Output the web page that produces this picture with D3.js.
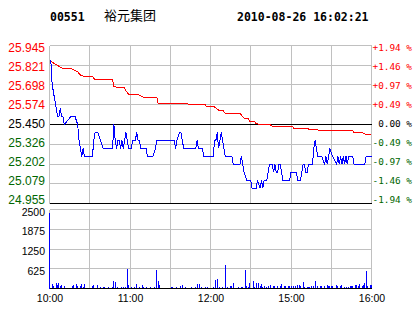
<!DOCTYPE html>
<html>
<head>
<meta charset="utf-8">
<script src="https://cdn.jsdelivr.net/npm/d3@7/dist/d3.min.js"></script>
<style>
body { margin: 0; background: #fff; }
svg { display: block; }
.head { font-family: 'DejaVu Sans Mono', monospace; font-size: 11.5px; font-weight: bold; }
.name { font-family: 'Noto Sans CJK SC', sans-serif; font-size: 13px; }
.price-label { font-family: 'Liberation Sans', Arial, sans-serif; font-size: 12px; }
.pct-label { font-family: 'DejaVu Sans Mono', monospace; font-size: 9.4px; }
.small-label { font-family: 'Liberation Sans', Arial, sans-serif; font-size: 10.5px; }
</style>
</head>
<body>
<svg width="414" height="314"></svg>
<script>
const stockCode = '00551';
const stockName = '裕元集团';
const stamp = '2010-08-26 16:02:21';
const preClose = 25.45;

// axis values
const priceTicks = [24.955, 25.079, 25.202, 25.326, 25.450, 25.574, 25.698, 25.821, 25.945];
const pctLabels = ['-1.94 %', '-1.46 %', '-0.97 %', '-0.49 %', '0.00 %', '+0.49 %', '+0.97 %', '+1.46 %', '+1.94 %'];
const volTicks = [625, 1250, 1875, 2500];
const gridMinutes = [0, 30, 60, 90, 120, 150, 180, 210, 240];
const timeMinutes = [0, 60, 120, 180, 240];
const timeLabels = ['10:00', '11:00', '12:00', '15:00', '16:00'];

// price line (minutes from open, price)
const priceMin = [0, 1, 2, 3, 4, 5, 6, 7, 8, 9, 10, 11, 16, 19, 21, 22, 23, 24, 25, 26, 32, 33, 34, 36, 38, 40, 47, 48, 49, 50,
  51, 52, 53, 54, 55, 56, 57, 58, 59, 61, 62, 64, 65, 66, 67, 68, 72, 73, 77, 79, 80, 93, 94, 95, 97, 98, 99, 100, 109, 110,
  111, 114, 115, 122, 123, 124, 125, 126, 127, 128, 129, 130, 131, 136, 137, 142, 143, 144, 145, 147, 150, 151, 154, 155, 157, 158, 159, 160, 162, 163,
  164, 166, 167, 168, 169, 170, 171, 172, 173, 174, 179, 180, 183, 184, 185, 187, 188, 189, 190, 191, 192, 193, 196, 197, 198, 199, 200, 203, 205, 206,
  207, 208, 209, 211, 214, 215, 216, 217, 218, 219, 220, 221, 222, 223, 226, 227, 235, 236, 240];
const price = [25.85, 25.85, 25.70, 25.65, 25.60, 25.55, 25.50, 25.50, 25.55, 25.50, 25.50, 25.45, 25.50, 25.50, 25.45, 25.35, 25.30, 25.25, 25.30, 25.25, 25.25, 25.35, 25.40, 25.40, 25.35, 25.30, 25.30, 25.45, 25.35, 25.30,
  25.35, 25.35, 25.30, 25.35, 25.30, 25.35, 25.40, 25.35, 25.30, 25.30, 25.35, 25.35, 25.40, 25.35, 25.35, 25.30, 25.30, 25.25, 25.25, 25.30, 25.35, 25.35, 25.30, 25.35, 25.40, 25.40, 25.35, 25.30, 25.30, 25.35,
  25.30, 25.30, 25.25, 25.25, 25.35, 25.35, 25.40, 25.30, 25.35, 25.40, 25.35, 25.30, 25.25, 25.25, 25.20, 25.20, 25.25, 25.20, 25.15, 25.10, 25.10, 25.05, 25.05, 25.10, 25.05, 25.10, 25.05, 25.10, 25.10, 25.15,
  25.20, 25.20, 25.15, 25.20, 25.15, 25.15, 25.20, 25.20, 25.15, 25.10, 25.10, 25.15, 25.15, 25.15, 25.10, 25.10, 25.15, 25.20, 25.20, 25.15, 25.15, 25.20, 25.20, 25.30, 25.35, 25.30, 25.25, 25.25, 25.20, 25.25,
  25.20, 25.25, 25.30, 25.25, 25.20, 25.25, 25.20, 25.25, 25.20, 25.25, 25.20, 25.25, 25.20, 25.25, 25.25, 25.20, 25.20, 25.25, 25.25];

// average price line
const avgMin = [0, 4, 6, 10, 16, 19, 21, 23, 26, 32, 34, 47, 48, 51, 56, 57, 59, 65, 68, 70, 80, 81, 102, 105, 116, 117, 123, 126, 129, 131,
  142, 143, 145, 148, 149, 153, 154, 158, 164, 166, 181, 182, 199, 200, 226, 227, 233, 235, 240];
const avgPrice = [25.85, 25.83, 25.82, 25.80, 25.80, 25.79, 25.78, 25.76, 25.75, 25.75, 25.73, 25.73, 25.69, 25.68, 25.68, 25.66, 25.64, 25.64, 25.63, 25.62, 25.62, 25.58, 25.58, 25.575, 25.575, 25.56, 25.56, 25.54, 25.54, 25.52,
  25.52, 25.51, 25.49, 25.49, 25.47, 25.47, 25.455, 25.45, 25.45, 25.44, 25.44, 25.425, 25.42, 25.415, 25.41, 25.40, 25.40, 25.39, 25.387];

// volume bars
const volMin = [0, 2, 3, 5, 6, 7, 8, 9, 11, 17, 18, 20, 21, 23, 24, 25, 26, 32, 33, 36, 38, 40, 41, 44, 47, 48, 49, 51, 54, 55,
  57, 58, 59, 61, 63, 65, 67, 69, 70, 72, 75, 78, 80, 81, 82, 91, 92, 95, 98, 99, 101, 106, 109, 110, 112, 113, 116, 118, 122, 124,
  125, 127, 129, 131, 133, 135, 136, 137, 141, 143, 144, 146, 147, 148, 149, 152, 153, 154, 156, 157, 158, 159, 160, 162, 163, 165, 167, 168, 170, 172,
  173, 175, 176, 178, 179, 180, 182, 183, 185, 186, 187, 189, 190, 192, 193, 194, 195, 197, 198, 200, 202, 203, 205, 207, 208, 209, 210, 211, 214, 215,
  217, 218, 220, 221, 223, 224, 225, 226, 228, 229, 230, 231, 233, 234, 235, 236, 237, 239, 240];
const volume = [2380, 150, 80, 185, 115, 185, 80, 105, 80, 80, 105, 135, 80, 80, 155, 60, 135, 80, 125, 105, 60, 60, 60, 60, 60, 250, 220, 60, 60, 60,
  60, 625, 125, 60, 60, 155, 60, 125, 60, 60, 60, 60, 595, 250, 105, 60, 60, 60, 80, 125, 60, 60, 60, 155, 155, 60, 60, 60, 60, 260,
  290, 60, 60, 730, 60, 80, 80, 185, 60, 60, 60, 595, 80, 60, 185, 240, 60, 165, 185, 80, 155, 60, 80, 60, 80, 115, 80, 80, 80, 80,
  155, 80, 80, 80, 80, 80, 80, 80, 125, 105, 80, 210, 60, 60, 60, 60, 80, 80, 250, 80, 80, 80, 80, 125, 80, 80, 80, 80, 105, 80,
  80, 125, 60, 60, 60, 80, 80, 80, 125, 105, 80, 155, 80, 125, 185, 550, 80, 125, 125];

const red = '#ff0000';
const green = '#006600';
const gridColor = '#c0c0c0';

const svg = d3.select('svg');
const margin = { left: 49, top: 45 };
const innerWidth = 322;
const priceHeight = 158;
const volTop = 209;
const volHeight = 79;

const xScale = d3.scaleLinear().domain([0, 240]).range([0, innerWidth]);
const yScale = d3.scaleLinear().domain([priceTicks[0], priceTicks[8]]).range([priceHeight, 0]);
const labelY = d3.scaleLinear().domain(yScale.domain()).range([priceHeight - 3, 2.3]);
const vScale = d3.scaleLinear().domain([0, 2500]).range([volHeight, 0]);

const tickColor = v => v > preClose + 0.001 ? red : (v < preClose - 0.001 ? green : '#000');

// header
svg.append('text').attr('class', 'head').attr('x', 50).attr('y', 21).text(stockCode);
svg.append('text').attr('class', 'name').attr('x', 104).attr('y', 20).text(stockName);
svg.append('text').attr('class', 'head').attr('x', 237).attr('y', 21).text(stamp);

// price panel
const g = svg.append('g')
    .attr('transform', `translate(${margin.left + 0.5},${margin.top + 0.5})`)
    .style('shape-rendering', 'crispEdges');

g.selectAll('.hgrid').data(priceTicks).enter().append('line')
    .attr('x1', 0).attr('x2', innerWidth)
    .attr('y1', d => Math.round(yScale(d))).attr('y2', d => Math.round(yScale(d)))
    .attr('stroke', gridColor);

g.selectAll('.vgrid').data(gridMinutes).enter().append('line')
    .attr('x1', d => Math.round(xScale(d))).attr('x2', d => Math.round(xScale(d)))
    .attr('y1', 0).attr('y2', priceHeight)
    .attr('stroke', gridColor);

// black lines at pre-close and bottom, over the verticals
g.selectAll('.bline').data([priceTicks[0], preClose]).enter().append('line')
    .attr('x1', 0).attr('x2', innerWidth)
    .attr('y1', d => Math.round(yScale(d))).attr('y2', d => Math.round(yScale(d)))
    .attr('stroke', '#000');

const avgLine = d3.line()
    .x((d, i) => xScale(avgMin[i]))
    .y(d => yScale(d));
g.append('path')
    .attr('fill', 'none')
    .attr('stroke', red)
    .attr('d', avgLine(avgPrice));

const priceLine = d3.line()
    .x((d, i) => xScale(priceMin[i]))
    .y(d => yScale(d));
g.append('path')
    .attr('fill', 'none')
    .attr('stroke', '#0000ff')
    .attr('d', priceLine(price));

// left labels
svg.append('g').selectAll('text').data(priceTicks).enter().append('text')
    .attr('class', 'price-label')
    .attr('x', 45)
    .attr('y', d => margin.top + labelY(d))
    .attr('dy', '0.35em')
    .attr('text-anchor', 'end')
    .attr('fill', tickColor)
    .text(d => d.toFixed(3));

// right labels, right-aligned so the sign sits against the axis
svg.append('g').selectAll('text').data(priceTicks).enter().append('text')
    .attr('class', 'pct-label')
    .attr('x', 412)
    .attr('y', d => margin.top + labelY(d))
    .attr('dy', '0.35em')
    .attr('text-anchor', 'end')
    .attr('fill', tickColor)
    .text((d, i) => pctLabels[i]);

// volume panel
const vg = svg.append('g')
    .attr('transform', `translate(${margin.left + 0.5},${volTop + 0.5})`)
    .style('shape-rendering', 'crispEdges');

vg.selectAll('.hgrid').data(volTicks).enter().append('line')
    .attr('x1', 0).attr('x2', innerWidth)
    .attr('y1', d => Math.round(vScale(d))).attr('y2', d => Math.round(vScale(d)))
    .attr('stroke', gridColor);

vg.selectAll('.vgrid').data(gridMinutes).enter().append('line')
    .attr('x1', d => Math.round(xScale(d))).attr('x2', d => Math.round(xScale(d)))
    .attr('y1', 0).attr('y2', volHeight)
    .attr('stroke', gridColor);

vg.selectAll('rect').data(volume).enter().append('rect')
    .attr('x', (d, i) => Math.round(xScale(volMin[i])) - 0.5)
    .attr('y', d => vScale(d))
    .attr('width', 1)
    .attr('height', d => volHeight - vScale(d))
    .attr('fill', '#0000ff');

vg.append('line')
    .attr('x1', 0).attr('x2', innerWidth)
    .attr('y1', volHeight).attr('y2', volHeight)
    .attr('stroke', '#000');

svg.append('g').selectAll('text').data(volTicks).enter().append('text')
    .attr('class', 'small-label')
    .attr('x', 45)
    .attr('y', d => volTop + vScale(d) + 3)
    .attr('dy', '0.35em')
    .attr('text-anchor', 'end')
    .text(d => d);

svg.append('g').selectAll('text').data(timeMinutes).enter().append('text')
    .attr('class', 'small-label')
    .attr('x', d => margin.left + xScale(d) + 1)
    .attr('y', 302)
    .attr('text-anchor', 'middle')
    .text((d, i) => timeLabels[i]);
</script>
</body>
</html>
